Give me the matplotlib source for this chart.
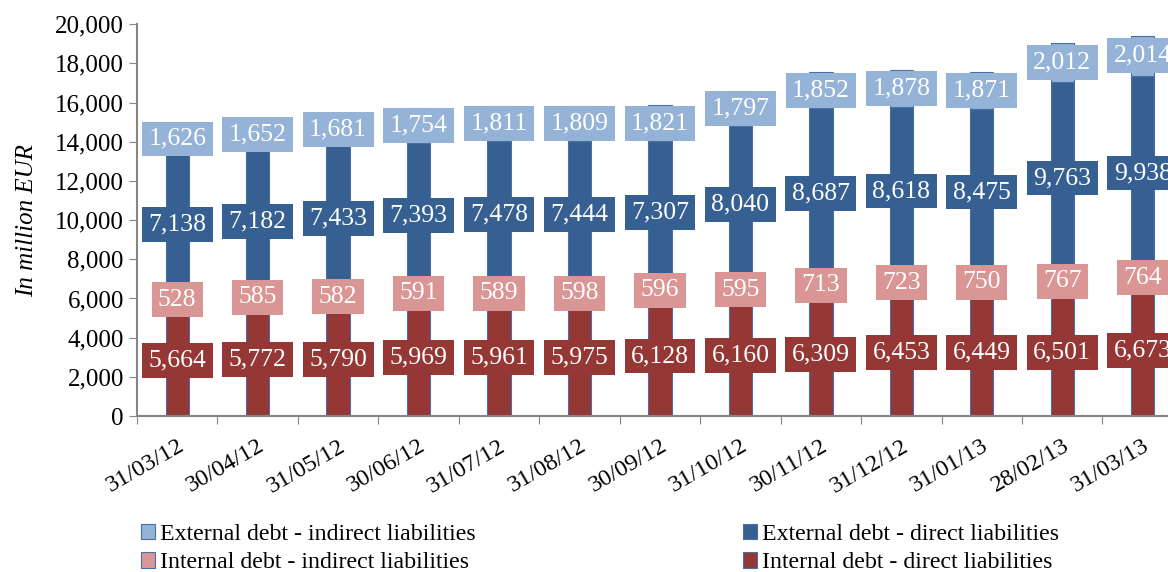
"""Stock and structure of public debt, stacked bars with boxed labels."""

import numpy as np
import matplotlib.pyplot as plt
from matplotlib.ticker import FuncFormatter

dates = ["31/03/12", "30/04/12", "31/05/12", "30/06/12", "31/07/12",
         "31/08/12", "30/09/12", "31/10/12", "30/11/12", "31/12/12",
         "31/01/13", "28/02/13", "31/03/13"]
internal_direct = [5664, 5772, 5790, 5969, 5961, 5975, 6128, 6160, 6309,
                   6453, 6449, 6501, 6673]
internal_indirect = [528, 585, 582, 591, 589, 598, 596, 595, 713, 723,
                     750, 767, 764]
external_direct = [7138, 7182, 7433, 7393, 7478, 7444, 7307, 8040, 8687,
                   8618, 8475, 9763, 9938]
external_indirect = [1626, 1652, 1681, 1754, 1811, 1809, 1821, 1797, 1852,
                     1878, 1871, 2012, 2014]

names = ["Internal debt - direct liabilities",
         "Internal debt - indirect liabilities",
         "External debt - direct liabilities",
         "External debt - indirect liabilities"]
colors = ["#953735", "#DA9694", "#376092", "#95B3D7"]


def main():
    plt.rcParams["font.family"] = "Liberation Serif"
    fig = plt.figure(figsize=(11.68, 5.72), dpi=100)
    ax = fig.add_axes([0.1173, 0.2727, 0.8955, 0.685])

    x = np.arange(len(dates))
    series = [internal_direct, internal_indirect, external_direct,
              external_indirect]
    bottom = np.zeros(len(dates))
    bars = []
    for vals, name, col in zip(series, names, colors):
        vals = np.array(vals, dtype=float)
        b = ax.bar(x, vals, 0.29, bottom=bottom, color=col,
                   edgecolor="#4A6FA5", linewidth=0.8, label=name)
        bars.append(b)
        for xi, v, bt in zip(x, vals, bottom):
            ax.text(xi, bt + v / 2, f"{int(v):,}", ha="center", va="center",
                    fontsize=18.5, color="white",
                    bbox=dict(boxstyle="square,pad=0.25", fc=col, ec="none"))
        bottom += vals

    ax.set_xlim(-0.5, len(dates) - 0.5)
    ax.set_ylim(0, 20000)
    ax.set_yticks(np.arange(0, 20001, 2000))
    ax.yaxis.set_major_formatter(FuncFormatter(lambda v, p: f"{int(v):,}"))
    ax.set_xticks(np.arange(-0.5, len(dates), 1.0))
    ax.set_xticklabels([])
    ax.set_xticks(x, minor=True)
    ax.set_xticklabels(dates, minor=True, rotation=30, ha="right",
                       rotation_mode="anchor", fontsize=17.5)
    ax.tick_params(axis="x", which="minor", length=0, pad=14)
    ax.tick_params(axis="x", which="major", length=6, color="#868686")
    ax.tick_params(axis="y", length=6, color="#868686", labelsize=18)
    for s in ["top", "right"]:
        ax.spines[s].set_visible(False)
    for s in ["left", "bottom"]:
        ax.spines[s].set_color("#868686")
        ax.spines[s].set_linewidth(1.5)
    ax.set_ylabel("In million EUR", fontstyle="italic", fontsize=18,
                  labelpad=12)

    order = [3, 1, 2, 0]
    leg = fig.legend([bars[i] for i in order], [names[i] for i in order],
                     ncol=2, loc="lower left", bbox_to_anchor=(0.102, -0.04),
                     frameon=False, fontsize=17.2, handlelength=0.6,
                     handleheight=0.6, handletextpad=0.2, columnspacing=11.2,
                     labelspacing=0.3)
    for h in leg.legend_handles:
        h.set_edgecolor("#4A6FA5")

    fig.text(0.55, 0.995, "Stock and Structure of Public Debt", ha="center",
             va="bottom", fontsize=18, color="#444444")

    fig.savefig("out.png", dpi=100)


if __name__ == "__main__":
    main()
